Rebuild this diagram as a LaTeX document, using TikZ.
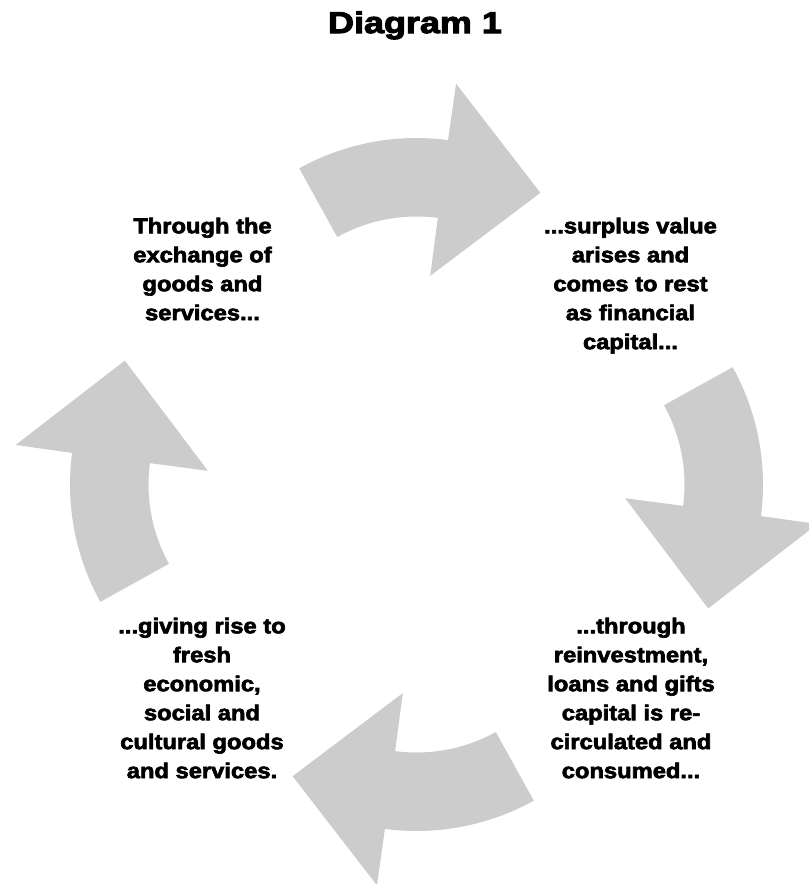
\documentclass[tikz,border=0pt]{standalone}
\usepackage{fontspec}
\newfontfamily\heavyfont{Liberation Sans}[UprightFont={* Bold},FakeBold=3,FakeStretch=1.11]
\newfontfamily\heavytitle{Liberation Sans}[UprightFont={* Bold},FakeBold=3.5,FakeStretch=1.2]
\definecolor{arrowgray}{RGB}{204,204,204}

\begin{document}
\begin{tikzpicture}[x=0.025cm,y=0.025cm,
    cyclearrow/.style={fill=arrowgray},
    caption/.style={font=\heavyfont\fontsize{15.2pt}{20.6pt}\selectfont,
      align=center, anchor=north, inner sep=0pt}]
  \clip (-416.5,-399.5) rectangle (392.5,484.5) ;
  \node [font=\heavytitle\fontsize{21.3pt}{24pt}\selectfont, anchor=base, inner sep=0pt] (title) at (-1.5,451.5) {Diagram 1} ;
  % the four arrows of the cycle
  \foreach \i in {0,1,2,3} {
    \fill [cyclearrow, shift={(90-90*\i:104.5)}, rotate=-90*\i]
      (119:242) arc [start angle=119, end angle=82.5, radius=242]
      -- (82.4:299) -- (56.5:224.5) -- (82.5:105) -- (82.5:163.5)
      arc [start angle=82.5, end angle=119, radius=163.5] -- cycle ;
  }
  \node [caption] (exchange) at (-214,267) {Through the\\exchange of\\goods and\\services...} ;
  \node [caption] (surplus) at (214,267) {...surplus value\\arises and\\comes to rest\\as financial\\capital...} ;
  \node [caption] (reinvest) at (214.5,-133) {...through\\reinvestment,\\loans and gifts\\capital is re-\\circulated and\\consumed...} ;
  \node [caption] (fresh) at (-214.5,-133) {...giving rise to\\fresh\\economic,\\social and\\cultural goods\\and services.} ;
\end{tikzpicture}
\end{document}
